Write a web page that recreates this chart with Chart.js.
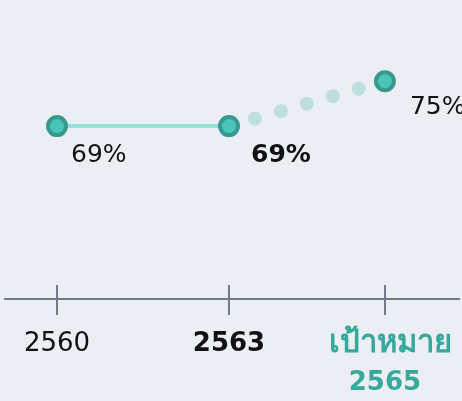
<!DOCTYPE html>
<html>
<head>
<meta charset="utf-8">
<script src="https://cdn.jsdelivr.net/npm/chart.js@4"></script>
<style>
  html, body { margin: 0; padding: 0; background: #ebeef2; }
  canvas { display: block; }
</style>
</head>
<body>
<canvas id="c" width="462" height="401"></canvas>
<script>
// ---- data ----
const categories = ['2560', '2563', 'เป้าหมาย 2565'];
const tickLabels = [['2560'], ['2563'], ['เป้าหมาย', '2565']];
const axisPositions = [0, 3, 5.72];   // position of each category along the x axis
const values = [69, 69, 75];
const valueLabels = ['69%', '69%', '75%'];

// ---- styles ----
const FONT = "'DejaVu Sans', sans-serif";
const AXIS = '#6f7b8b';
const TEAL_TEXT = '#37a99c';

const pts = values.map((v, i) => ({ x: axisPositions[i], y: v }));

const tickStyles = [
  { color: '#111111', weight: 'normal' },
  { color: '#111111', weight: 'bold' },
  { color: TEAL_TEXT, weight: 'bold' }
];
const labelStyles = [
  { dx: 14, dy: 29, weight: 'normal' },
  { dx: 22, dy: 29, weight: 'bold' },
  { dx: 25, dy: 26, weight: 'normal' }
];
const isThai = s => /[\u0E00-\u0E7F]/.test(s);

const upperTicks = {
  id: 'upperTicks',
  afterDatasetsDraw(chart) {
    const x = chart.scales.x;
    const ctx = chart.ctx;
    const yAxis = chart.chartArea.bottom;
    ctx.save();
    ctx.strokeStyle = AXIS;
    ctx.lineWidth = 2;
    axisPositions.forEach(p => {
      const px = Math.round(x.getPixelForValue(p));
      ctx.beginPath();
      ctx.moveTo(px, yAxis - 14);
      ctx.lineTo(px, yAxis);
      ctx.stroke();
    });
    // Thai words in tick labels are drawn a bit larger than digits
    tickLabels.forEach((lines, i) => {
      lines.forEach((line, j) => {
        if (!isThai(line)) return;
        const px = x.getPixelForValue(axisPositions[i]);
        ctx.fillStyle = tickStyles[i].color;
        ctx.font = tickStyles[i].weight + " 31px 'DejaVu Sans', sans-serif";
        ctx.textAlign = 'center';
        ctx.textBaseline = 'middle';
        ctx.fillText(line, px + 6, yAxis + 45 + j * 38);
      });
    });
    ctx.restore();
  }
};

const valueLabelPlugin = {
  id: 'valueLabels',
  afterDatasetsDraw(chart) {
    const meta = chart.getDatasetMeta(0);
    const ctx = chart.ctx;
    ctx.save();
    ctx.fillStyle = '#111111';
    ctx.textAlign = 'left';
    ctx.textBaseline = 'middle';
    meta.data.forEach((el, i) => {
      const s = labelStyles[i];
      ctx.font = s.weight + ' 25px ' + FONT;
      ctx.fillText(valueLabels[i], el.x + s.dx, el.y + s.dy);
    });
    ctx.restore();
  }
};

new Chart(document.getElementById('c'), {
  type: 'scatter',
  data: {
    labels: categories,
    datasets: [
      {
        label: 'points',
        data: pts,
        showLine: false,
        pointRadius: 9,
        pointHoverRadius: 9,
        pointBorderWidth: 4,
        pointBackgroundColor: '#4bc5b8',
        pointBorderColor: '#36998e',
        order: 0,
        clip: false
      },
      {
        label: 'actual',
        data: pts.slice(0, 2),
        showLine: true,
        borderColor: '#95e1d9',
        borderWidth: 4,
        pointRadius: 0,
        order: 1,
        clip: false
      },
      {
        label: 'target',
        data: pts.slice(1, 3),
        showLine: true,
        borderColor: '#bfdfdc',
        borderWidth: 14,
        borderDash: [0, 27],
        borderCapStyle: 'round',
        pointRadius: 0,
        order: 2,
        clip: false
      }
    ]
  },
  options: {
    responsive: false,
    animation: false,
    events: [],
    layout: { autoPadding: false, padding: { left: 5, right: 3, top: 0, bottom: -12 } },
    plugins: { legend: { display: false }, tooltip: { enabled: false } },
    scales: {
      x: {
        type: 'linear',
        min: -0.907,
        max: 7.012,
        afterBuildTicks(scale) {
          scale.ticks = axisPositions.map(v => ({ value: v }));
        },
        afterFit(scale) {
          scale.paddingLeft = 0;
          scale.paddingRight = 0;
        },
        border: { display: true, color: AXIS, width: 2 },
        grid: { drawOnChartArea: false, drawTicks: true, tickLength: 16, color: AXIS, lineWidth: 2 },
        ticks: {
          autoSkip: false,
          maxRotation: 0,
          padding: 10,
          callback(value, index) {
            return tickLabels[index].map(l => isThai(l) ? '' : l);
          },
          color: ctx => tickStyles[ctx.index] ? tickStyles[ctx.index].color : '#111',
          font: ctx => ({
            family: FONT,
            size: 26,
            weight: tickStyles[ctx.index] ? tickStyles[ctx.index].weight : 'normal',
            lineHeight: 1.5
          })
        }
      },
      y: {
        display: false,
        min: 45.9,
        max: 85.85
      }
    }
  },
  plugins: [upperTicks, valueLabelPlugin]
});
</script>
</body>
</html>
